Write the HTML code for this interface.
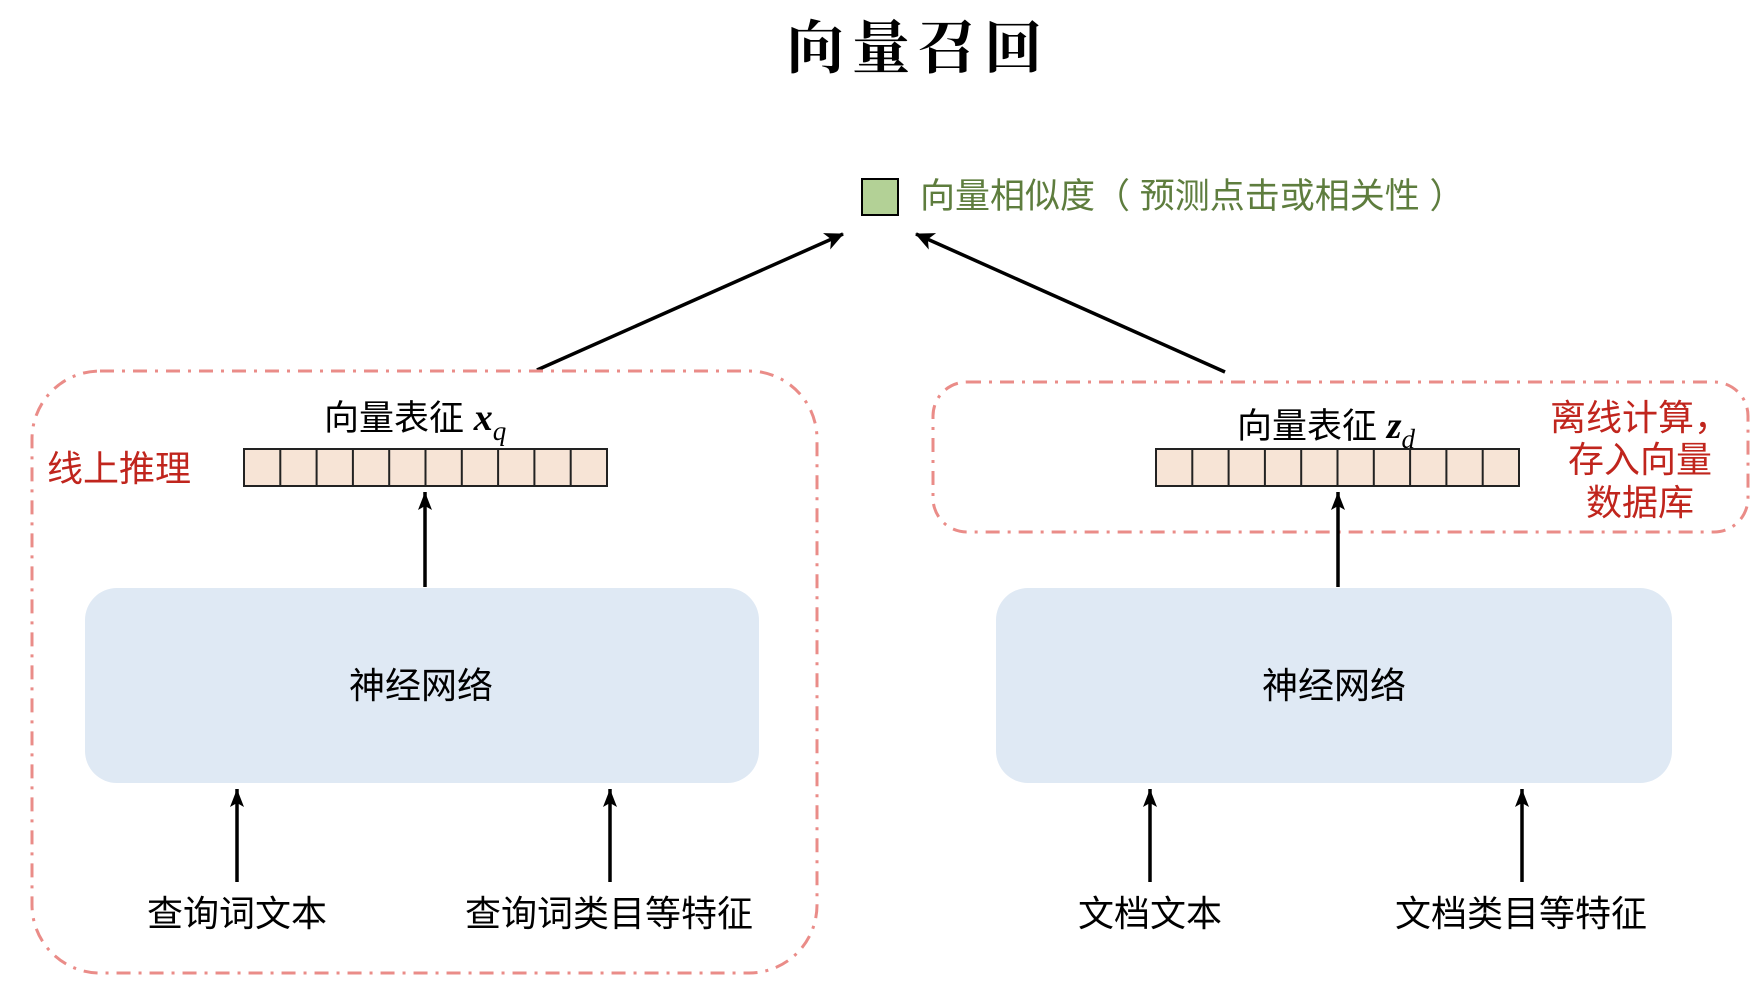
<!DOCTYPE html>
<html><head><meta charset="utf-8"><style>
html,body{margin:0;padding:0;background:#fff;}
svg{display:block;}
text{font-family:"Liberation Sans","Noto Sans CJK SC",sans-serif;}
</style></head><body>
<svg width="1764" height="994" viewBox="0 0 1764 994" xmlns="http://www.w3.org/2000/svg">
<defs>
<marker id="ah" markerWidth="16" markerHeight="20" refX="8" refY="0" orient="0" markerUnits="userSpaceOnUse">
<path d="M8,0 L15,18 L8,14 L1,18 Z" fill="#000"/>
</marker>
<marker id="ah2" markerWidth="22" markerHeight="22" refX="18" refY="9" orient="auto" markerUnits="userSpaceOnUse">
<path d="M0,0 L19,9 L0,18 L5,9 Z" fill="#000"/>
</marker>
</defs>
<text x="918" y="68" text-anchor="middle" font-size="58" font-weight="bold" style="font-family:'Noto Serif CJK SC',serif;letter-spacing:8px">向量召回</text>

<rect x="862" y="179" width="36" height="36" fill="#b3d196" stroke="#000" stroke-width="2"/>
<text x="920" y="208" font-size="35" fill="#5e7d3e">向量相似度（ 预测点击或相关性 ）</text>

<line x1="537" y1="370" x2="843" y2="234" stroke="#000" stroke-width="3.5" marker-end="url(#ah2)"/>
<line x1="1225" y1="372" x2="916" y2="234" stroke="#000" stroke-width="3.5" marker-end="url(#ah2)"/>

<rect x="32" y="371" width="785" height="602" rx="68" fill="none" stroke="#ea8c88" stroke-width="3" stroke-dasharray="14,8,3,8"/>
<rect x="933" y="382" width="815" height="150" rx="34" fill="none" stroke="#ea8c88" stroke-width="3" stroke-dasharray="14,8,3,8"/>

<text x="47" y="481" font-size="36" fill="#c0251d">线上推理</text>
<text x="1640" y="430" text-anchor="middle" font-size="36" fill="#c0251d">离线计算，</text>
<text x="1640" y="472" text-anchor="middle" font-size="36" fill="#c0251d">存入向量</text>
<text x="1640" y="515" text-anchor="middle" font-size="36" fill="#c0251d">数据库</text>

<text x="324" y="430" font-size="35">向量表征 <tspan font-family="Liberation Serif" font-style="italic" font-weight="bold" font-size="38">x</tspan><tspan font-family="Liberation Serif" font-style="italic" font-size="27" dy="10">q</tspan></text>
<text x="1237" y="438" font-size="35">向量表征 <tspan font-family="Liberation Serif" font-style="italic" font-weight="bold" font-size="38">z</tspan><tspan font-family="Liberation Serif" font-style="italic" font-size="27" dy="10">d</tspan></text>

<g fill="#f7e4d6" stroke="#222" stroke-width="2">
<rect x="244" y="449" width="363" height="37"/>
<rect x="1156" y="449" width="363" height="37"/>
</g>
<g stroke="#222" stroke-width="2">
<path d="M280.3,449v37M316.6,449v37M352.9,449v37M389.2,449v37M425.5,449v37M461.8,449v37M498.1,449v37M534.4,449v37M570.7,449v37"/>
<path d="M1192.3,449v37M1228.6,449v37M1264.9,449v37M1301.2,449v37M1337.5,449v37M1373.8,449v37M1410.1,449v37M1446.4,449v37M1482.7,449v37"/>
</g>

<line x1="425" y1="587" x2="425" y2="492" stroke="#000" stroke-width="3.5" marker-end="url(#ah)"/>
<line x1="1338" y1="587" x2="1338" y2="492" stroke="#000" stroke-width="3.5" marker-end="url(#ah)"/>

<rect x="85" y="588" width="674" height="195" rx="32" fill="#dfe9f4"/>
<rect x="996" y="588" width="676" height="195" rx="32" fill="#dfe9f4"/>
<text x="421" y="698" text-anchor="middle" font-size="36">神经网络</text>
<text x="1334" y="698" text-anchor="middle" font-size="36">神经网络</text>

<g stroke="#000" stroke-width="3.5">
<line x1="237" y1="882" x2="237" y2="789" marker-end="url(#ah)"/>
<line x1="610" y1="882" x2="610" y2="789" marker-end="url(#ah)"/>
<line x1="1150" y1="882" x2="1150" y2="789" marker-end="url(#ah)"/>
<line x1="1522" y1="882" x2="1522" y2="789" marker-end="url(#ah)"/>
</g>
<g font-size="36" text-anchor="middle">
<text x="237" y="926">查询词文本</text>
<text x="609" y="926">查询词类目等特征</text>
<text x="1150" y="926">文档文本</text>
<text x="1521" y="926">文档类目等特征</text>
</g>
</svg>
</body></html>
